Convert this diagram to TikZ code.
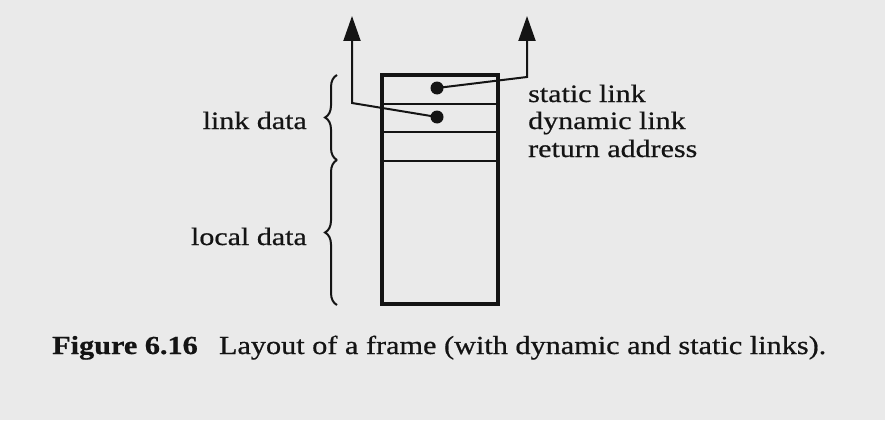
\documentclass[tikz,border=0pt]{standalone}
\usepackage{fontspec}
\usepackage{graphicx}
\setmainfont{Liberation Serif}[FakeBold=0.4]
\newfontfamily\labfont[FakeStretch=1.2,FakeBold=0.6]{Liberation Serif}
\newfontfamily\capfont[FakeBold=0.6]{Liberation Serif}
\usetikzlibrary{arrows.meta,decorations.pathreplacing}
\definecolor{paper}{RGB}{234,234,234}
\definecolor{ink}{RGB}{20,20,20}
\tikzset{
  frameline/.style={draw=ink,line width=4pt},
  slotline/.style={draw=ink,line width=2pt},
  linkdot/.style={circle,fill=ink,inner sep=0pt,minimum size=13pt},
  ptr/.style={draw=ink,line width=2pt,-{Triangle[length=25pt,width=17pt]}},
  lbl/.style={font=\labfont\fontsize{25}{30}\selectfont,text=ink,inner sep=0pt},
  databrace/.style={draw=ink,line width=2pt,decorate,decoration={brace,amplitude=12pt,aspect=0.5}}
}
\begin{document}
\begin{tikzpicture}[x=1pt,y=-1pt]
\fill[paper] (0,0) rectangle (885,420);
\useasboundingbox (0,0) rectangle (885,420);
% frame box
\draw[frameline] (382,75) rectangle (498,304);
\draw[slotline] (382,104) -- (498,104);
\draw[slotline] (382,132) -- (498,132);
\draw[slotline] (382,161) -- (498,161);
% dots
\node[linkdot] (sdot) at (437,88) {};
\node[linkdot] (ddot) at (437,117) {};
% pointer corners and tips
\coordinate (rc) at (527,77);
\coordinate (rtop) at (527,16);
\coordinate (lc) at (352,103);
\coordinate (ltop) at (352,16);
\draw[ptr] (sdot.center) -- (rc) -- (rtop);
\draw[ptr] (ddot.center) -- (lc) -- (ltop);
% right labels
\node[lbl,anchor=base west] (sl) at (528,102) {static link};
\node[lbl,anchor=base west] (dl) at (528,129) {dynamic link};
\node[lbl,anchor=base west] (ra) at (528,157) {return address};
% braces
\coordinate (b0) at (337,75);
\coordinate (b1) at (337,160);
\coordinate (b2) at (337,305);
\draw[databrace] (b1) -- (b0);
\draw[databrace] (b2) -- (b1);
% left labels
\node[lbl,anchor=base east] (ld) at (307,129) {link data};
\node[lbl,anchor=base east] (lo) at (307,245) {local data};
% caption
\node[anchor=base west,inner sep=0pt,text=ink] (cap) at (52,354)
  {\resizebox{774pt}{\height}{\capfont\fontsize{26}{30}\selectfont\textbf{Figure 6.16}\hspace{0.7em}Layout of a frame (with dynamic and static links).}};
\end{tikzpicture}
\end{document}
